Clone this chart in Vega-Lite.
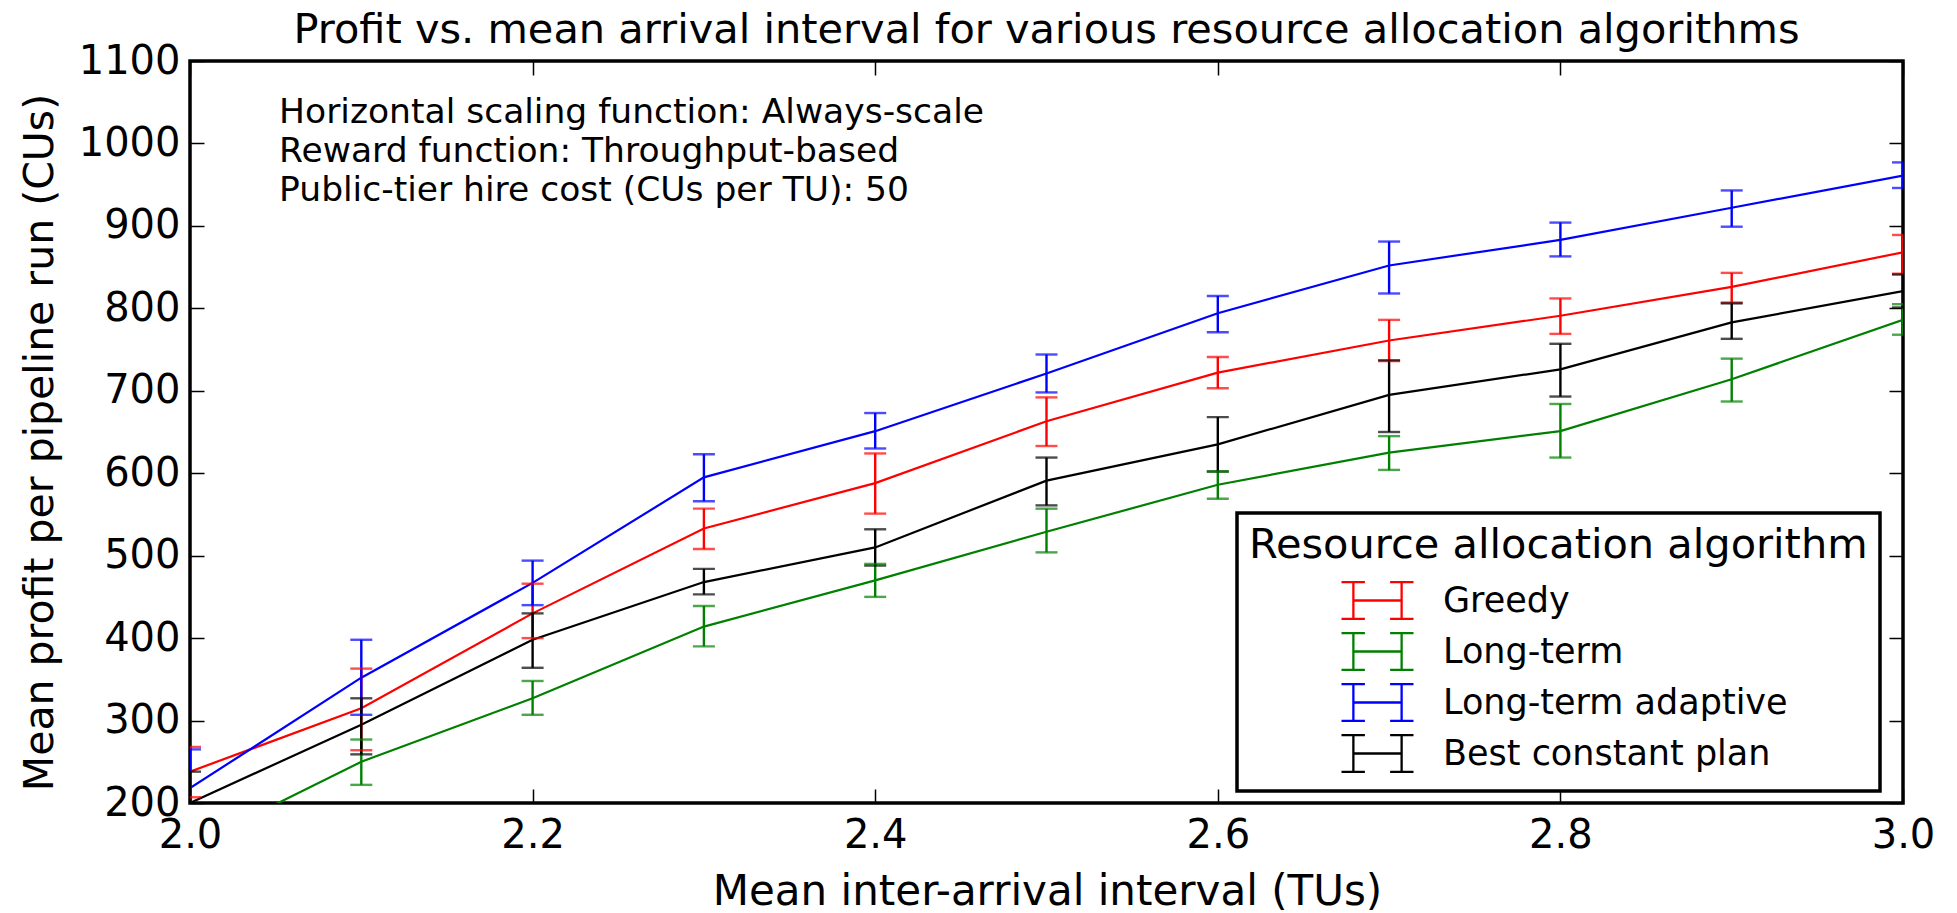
{
  "$schema": "https://vega.github.io/schema/vega-lite/v6.json",
  "width": 1713,
  "height": 742,
  "autosize": {"type": "none"},
  "padding": {"left": 190, "top": 61, "right": 54, "bottom": 110},
  "background": "white",
  "title": {
    "text": "Profit vs. mean arrival interval  for various resource allocation algorithms",
    "font": "DejaVu Sans",
    "fontSize": 41.5,
    "fontWeight": "normal",
    "color": "black",
    "anchor": "middle",
    "frame": "group",
    "offset": 16,
    "dy": 59,
    "baseline": "alphabetic"
  },
  "config": {
    "font": "DejaVu Sans",
    "view": {"stroke": "black", "strokeWidth": 3.5},
    "axis": {
      "domain": false,
      "grid": false,
      "labelFont": "DejaVu Sans",
      "labelFontSize": 40,
      "labelColor": "black",
      "tickColor": "black",
      "tickWidth": 1.5,
      "tickSize": -14,
      "titleFont": "DejaVu Sans",
      "titleFontSize": 42,
      "titleFontWeight": "normal",
      "titleColor": "black",
      "labelFlush": false,
      "labelOverlap": false
    }
  },
  "data": {
    "values": [
      {"alg": "Greedy", "x": 2.0, "mean": 238, "lo": 207, "hi": 268},
      {"alg": "Greedy", "x": 2.1, "mean": 315, "lo": 264, "hi": 363},
      {"alg": "Greedy", "x": 2.2, "mean": 430, "lo": 400, "hi": 466},
      {"alg": "Greedy", "x": 2.3, "mean": 533, "lo": 508, "hi": 557},
      {"alg": "Greedy", "x": 2.4, "mean": 588, "lo": 551, "hi": 624},
      {"alg": "Greedy", "x": 2.5, "mean": 663, "lo": 633, "hi": 692},
      {"alg": "Greedy", "x": 2.6, "mean": 722, "lo": 703, "hi": 741},
      {"alg": "Greedy", "x": 2.7, "mean": 761, "lo": 736, "hi": 786},
      {"alg": "Greedy", "x": 2.8, "mean": 791, "lo": 769, "hi": 812},
      {"alg": "Greedy", "x": 2.9, "mean": 826, "lo": 807, "hi": 843},
      {"alg": "Greedy", "x": 3.0, "mean": 868, "lo": 842, "hi": 889},
      {"alg": "Long-term", "x": 2.0, "mean": 147, "lo": 115, "hi": 180},
      {"alg": "Long-term", "x": 2.1, "mean": 250, "lo": 222, "hi": 277},
      {"alg": "Long-term", "x": 2.2, "mean": 327, "lo": 307, "hi": 348},
      {"alg": "Long-term", "x": 2.3, "mean": 414, "lo": 390, "hi": 439},
      {"alg": "Long-term", "x": 2.4, "mean": 470, "lo": 450, "hi": 490},
      {"alg": "Long-term", "x": 2.5, "mean": 529, "lo": 504, "hi": 557},
      {"alg": "Long-term", "x": 2.6, "mean": 586, "lo": 569, "hi": 602},
      {"alg": "Long-term", "x": 2.7, "mean": 625, "lo": 604, "hi": 645},
      {"alg": "Long-term", "x": 2.8, "mean": 651, "lo": 619, "hi": 684},
      {"alg": "Long-term", "x": 2.9, "mean": 714, "lo": 687, "hi": 739},
      {"alg": "Long-term", "x": 3.0, "mean": 786, "lo": 768, "hi": 805},
      {"alg": "Long-term adaptive", "x": 2.0, "mean": 218, "lo": 171, "hi": 265},
      {"alg": "Long-term adaptive", "x": 2.1, "mean": 352, "lo": 307, "hi": 398},
      {"alg": "Long-term adaptive", "x": 2.2, "mean": 467, "lo": 440, "hi": 494},
      {"alg": "Long-term adaptive", "x": 2.3, "mean": 595, "lo": 566, "hi": 623},
      {"alg": "Long-term adaptive", "x": 2.4, "mean": 651, "lo": 630, "hi": 673},
      {"alg": "Long-term adaptive", "x": 2.5, "mean": 721, "lo": 698, "hi": 744},
      {"alg": "Long-term adaptive", "x": 2.6, "mean": 794, "lo": 771, "hi": 815},
      {"alg": "Long-term adaptive", "x": 2.7, "mean": 852, "lo": 818, "hi": 881},
      {"alg": "Long-term adaptive", "x": 2.8, "mean": 883, "lo": 863, "hi": 904},
      {"alg": "Long-term adaptive", "x": 2.9, "mean": 922, "lo": 899, "hi": 943},
      {"alg": "Long-term adaptive", "x": 3.0, "mean": 961, "lo": 946, "hi": 977},
      {"alg": "Best constant plan", "x": 2.0, "mean": 200, "lo": 162, "hi": 238},
      {"alg": "Best constant plan", "x": 2.1, "mean": 295, "lo": 259, "hi": 327},
      {"alg": "Best constant plan", "x": 2.2, "mean": 398, "lo": 364, "hi": 430},
      {"alg": "Best constant plan", "x": 2.3, "mean": 468, "lo": 453, "hi": 484},
      {"alg": "Best constant plan", "x": 2.4, "mean": 510, "lo": 488, "hi": 532},
      {"alg": "Best constant plan", "x": 2.5, "mean": 591, "lo": 561, "hi": 619},
      {"alg": "Best constant plan", "x": 2.6, "mean": 635, "lo": 602, "hi": 668},
      {"alg": "Best constant plan", "x": 2.7, "mean": 695, "lo": 650, "hi": 737},
      {"alg": "Best constant plan", "x": 2.8, "mean": 726, "lo": 693, "hi": 757},
      {"alg": "Best constant plan", "x": 2.9, "mean": 783, "lo": 763, "hi": 806},
      {"alg": "Best constant plan", "x": 3.0, "mean": 821, "lo": 801, "hi": 841}
    ]
  },
  "layer": [
    {
      "mark": {"type": "line", "clip": true, "strokeWidth": 2.2},
      "encoding": {
        "x": {
          "field": "x", "type": "quantitative",
          "scale": {"domain": [2, 3], "nice": false, "zero": false},
          "axis": {
            "orient": "bottom",
            "values": [2.0, 2.2, 2.4, 2.6, 2.8, 3.0],
            "format": ".1f",
            "labelPadding": 26,
            "title": "Mean inter-arrival interval (TUs)",
            "titleX": 857,
            "titleY": 101,
            "titleBaseline": "alphabetic",
            "titleAlign": "center"
          }
        },
        "y": {
          "field": "mean", "type": "quantitative",
          "scale": {"domain": [200, 1100], "nice": false, "zero": false},
          "axis": {
            "orient": "left",
            "values": [200, 300, 400, 500, 600, 700, 800, 900, 1000, 1100],
            "format": "d",
            "labelPadding": 24,
            "title": "Mean profit per pipeline run (CUs)",
            "titleFontSize": 41,
            "titleX": -138,
            "titleY": 381,
            "titleAngle": -90,
            "titleBaseline": "alphabetic",
            "titleAlign": "center"
          }
        },
        "color": {
          "field": "alg", "type": "nominal",
          "scale": {
            "domain": ["Greedy", "Long-term", "Long-term adaptive", "Best constant plan"],
            "range": ["#ff0000", "#008000", "#0000ff", "#000000"]
          },
          "legend": {
            "orient": "none",
            "legendX": 1047,
            "legendY": 452,
            "title": "Resource allocation algorithm",
            "titleFont": "DejaVu Sans",
            "titleFontSize": 41.5,
            "titleFontWeight": "normal",
            "titleColor": "black",
            "titlePadding": 8.5,
            "titleLimit": 2000,
            "labelFont": "DejaVu Sans",
            "labelFontSize": 35,
            "labelColor": "black",
            "labelLimit": 2000,
            "labelOffset": 28,
            "symbolType": "M-1,-0.51H-0.35M-0.67,-0.51V0.51M-1,0.51H-0.35M0.35,-0.51H1M0.67,-0.51V0.51M0.35,0.51H1M-0.67,0H0.67",
            "symbolSize": 5184,
            "symbolStrokeWidth": 2.3,
            "symbolOffset": 91,
            "clipHeight": 51,
            "rowPadding": 0,
            "padding": 12,
            "cornerRadius": 0,
            "encode": {
              "legend": {"update": {"stroke": {"value": "black"}, "strokeWidth": {"value": 3.5}, "fill": {"value": "white"}}},
              "symbols": {"update": {"fill": {"value": "transparent"}, "stroke": {"scale": "color", "field": "value"}, "strokeWidth": {"value": 2.3}}}
            }
          }
        }
      }
    },
    {
      "mark": {"type": "rule", "clip": true, "strokeWidth": 2.4},
      "encoding": {
        "x": {
          "field": "x", "type": "quantitative",
          "scale": {"domain": [2, 3], "nice": false, "zero": false},
          "axis": {"orient": "top", "values": [2.0, 2.2, 2.4, 2.6, 2.8, 3.0], "labels": false, "title": null}
        },
        "y": {
          "field": "lo", "type": "quantitative",
          "scale": {"domain": [200, 1100], "nice": false, "zero": false},
          "axis": {"orient": "right", "values": [200, 300, 400, 500, 600, 700, 800, 900, 1000, 1100], "labels": false, "title": null}
        },
        "y2": {"field": "hi"},
        "color": {"field": "alg", "type": "nominal"}
      }
    },
    {
      "mark": {"type": "tick", "clip": true, "orient": "horizontal", "size": 22, "thickness": 2.4},
      "encoding": {
        "x": {"field": "x", "type": "quantitative", "scale": {"domain": [2, 3], "nice": false, "zero": false}, "axis": null},
        "y": {"field": "lo", "type": "quantitative", "scale": {"domain": [200, 1100], "nice": false, "zero": false}, "axis": null},
        "color": {"field": "alg", "type": "nominal"}
      }
    },
    {
      "mark": {"type": "tick", "clip": true, "orient": "horizontal", "size": 22, "thickness": 2.4},
      "encoding": {
        "x": {"field": "x", "type": "quantitative", "scale": {"domain": [2, 3], "nice": false, "zero": false}, "axis": null},
        "y": {"field": "hi", "type": "quantitative", "scale": {"domain": [200, 1100], "nice": false, "zero": false}, "axis": null},
        "color": {"field": "alg", "type": "nominal"}
      }
    },
    {
      "data": {
        "values": [
          {"nx": 2.052, "ny": 1025, "note": "Horizontal scaling function: Always-scale"},
          {"nx": 2.052, "ny": 977.5, "note": "Reward function: Throughput-based"},
          {"nx": 2.052, "ny": 930, "note": "Public-tier hire cost (CUs per TU): 50"}
        ]
      },
      "mark": {"type": "text", "align": "left", "baseline": "alphabetic", "fontSize": 34.5, "font": "DejaVu Sans", "color": "black"},
      "encoding": {
        "x": {"field": "nx", "type": "quantitative", "scale": {"domain": [2, 3], "nice": false, "zero": false}, "axis": null},
        "y": {"field": "ny", "type": "quantitative", "scale": {"domain": [200, 1100], "nice": false, "zero": false}, "axis": null},
        "text": {"field": "note"}
      }
    }
  ],
  "resolve": {"axis": {"x": "independent", "y": "independent"}}
}
